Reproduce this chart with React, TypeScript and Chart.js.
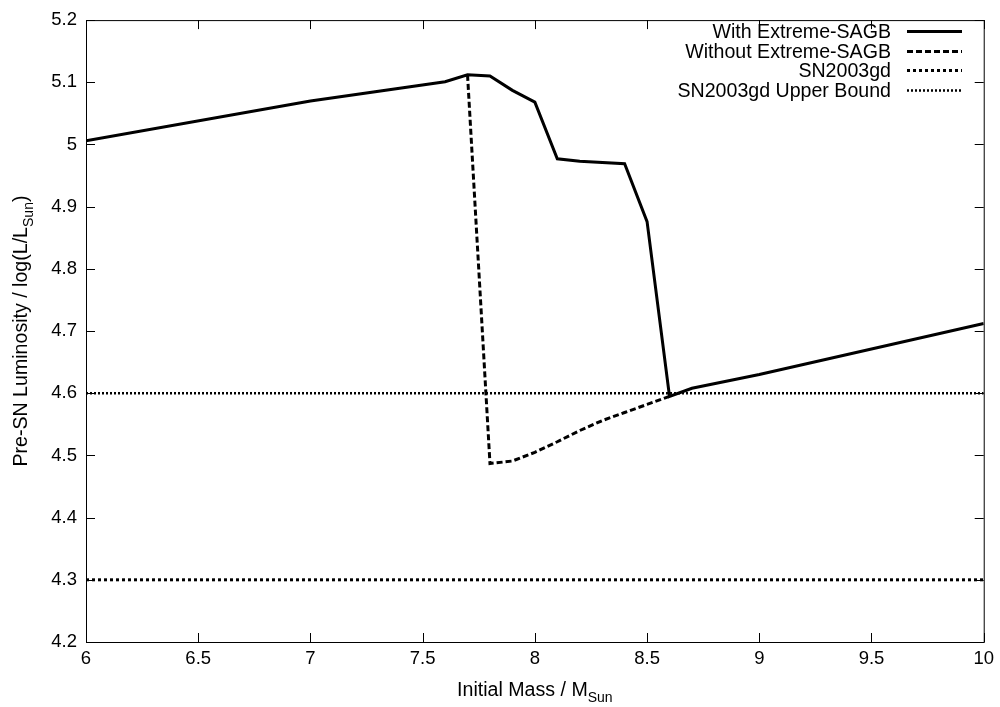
import React, { useEffect, useRef } from "react";
import { Chart, registerables } from "chart.js";

Chart.register(...registerables);

const massWith = [6, 7, 7.6, 7.7, 7.8, 7.9, 8.0, 8.1, 8.2, 8.4, 8.5, 8.6, 8.7, 9, 10];
const lumWith = [5.006, 5.07, 5.101, 5.112, 5.11, 5.087, 5.068, 4.977, 4.973, 4.969, 4.876, 4.595, 4.608, 4.63, 4.712];

const massWithout = [7.7, 7.8, 7.9, 8.0, 8.1, 8.2, 8.3, 8.4, 8.5, 8.6];
const lumWithout = [5.112, 4.487, 4.491, 4.505, 4.522, 4.54, 4.556, 4.569, 4.582, 4.595];

const massRange = [6, 10];
const sn2003gd = [4.3, 4.3];
const sn2003gdUpper = [4.6, 4.6];

const seriesLabels = ["With Extreme-SAGB", "Without Extreme-SAGB", "SN2003gd", "SN2003gd Upper Bound"];

const xTitle = ["Initial Mass / M", "Sun"];
const yTitle = ["Pre-SN Luminosity / log(L/L", "Sun", ")"];

const FONT = "'Liberation Sans', Arial, sans-serif";

const toPts = (xs: number[], ys: number[]) => xs.map((x, i) => ({ x, y: ys[i] }));

const framePlugin = {
  id: "gnuframe",
  afterDraw(chart: any) {
    const ctx = chart.ctx as CanvasRenderingContext2D;
    const { left, right, top, bottom } = chart.chartArea;
    const xs = chart.scales.x;
    const ys = chart.scales.y;
    ctx.save();
    ctx.strokeStyle = "#000";
    ctx.lineWidth = 1;
    ctx.setLineDash([]);
    ctx.strokeRect(left + 0.5, top + 0.5, right - left, bottom - top);
    const tl = 9;
    ctx.beginPath();
    xs.ticks.forEach((t: any) => {
      const px = Math.round(xs.getPixelForValue(t.value)) + 0.5;
      ctx.moveTo(px, bottom);
      ctx.lineTo(px, bottom - tl);
      ctx.moveTo(px, top);
      ctx.lineTo(px, top + tl);
    });
    ys.ticks.forEach((t: any) => {
      const py = Math.round(ys.getPixelForValue(t.value)) + 0.5;
      ctx.moveTo(left, py);
      ctx.lineTo(left + tl, py);
      ctx.moveTo(right, py);
      ctx.lineTo(right - tl, py);
    });
    ctx.stroke();

    // axis titles
    ctx.fillStyle = "#000";
    ctx.textBaseline = "alphabetic";
    ctx.textAlign = "left";
    const mainFont = `19.6px ${FONT}`;
    const subFont = `14px ${FONT}`;
    ctx.font = mainFont;
    const wx1 = ctx.measureText(xTitle[0]).width;
    ctx.font = subFont;
    const wx2 = ctx.measureText(xTitle[1]).width;
    const cx = (left + right) / 2;
    const sx = cx - (wx1 + wx2) / 2;
    ctx.font = mainFont;
    ctx.fillText(xTitle[0], sx, 696);
    ctx.font = subFont;
    ctx.fillText(xTitle[1], sx + wx1, 702);

    ctx.save();
    ctx.translate(27, (top + bottom) / 2);
    ctx.rotate(-Math.PI / 2);
    ctx.font = mainFont;
    const wy1 = ctx.measureText(yTitle[0]).width;
    const wy3 = ctx.measureText(yTitle[2]).width;
    ctx.font = subFont;
    const wy2 = ctx.measureText(yTitle[1]).width;
    const sy = -(wy1 + wy2 + wy3) / 2;
    ctx.font = mainFont;
    ctx.fillText(yTitle[0], sy, 0);
    ctx.font = subFont;
    ctx.fillText(yTitle[1], sy + wy1, 6);
    ctx.font = mainFont;
    ctx.fillText(yTitle[2], sy + wy1 + wy2, 0);
    ctx.restore();

    // legend
    ctx.font = mainFont;
    ctx.textAlign = "right";
    chart.data.datasets.forEach((ds: any, i: number) => {
      const cy = 31 + i * 19.7;
      ctx.fillStyle = "#000";
      ctx.fillText(ds.label, 891, cy + 6.8);
      ctx.beginPath();
      ctx.strokeStyle = "#000";
      ctx.lineWidth = ds.borderWidth;
      ctx.setLineDash(ds.borderDash || []);
      ctx.moveTo(907, Math.round(cy) + 0.5);
      ctx.lineTo(962, Math.round(cy) + 0.5);
      ctx.stroke();
    });
    ctx.restore();
  },
};

export default function App() {
  const ref = useRef<HTMLCanvasElement>(null);
  useEffect(() => {
    if (!ref.current) return;
    const tickFont = { family: FONT, size: 18.5 };
    const chart = new Chart(ref.current, {
      type: "line",
      data: {
        datasets: [
          {
            label: seriesLabels[0],
            data: toPts(massWith, lumWith),
            borderColor: "#000",
            borderWidth: 3,
            pointRadius: 0,
            tension: 0,
            order: 0,
          },
          {
            label: seriesLabels[1],
            data: toPts(massWithout, lumWithout),
            borderColor: "#000",
            borderWidth: 3,
            borderDash: [6, 3],
            pointRadius: 0,
            tension: 0,
            order: 1,
          },
          {
            label: seriesLabels[2],
            data: toPts(massRange, sn2003gd),
            borderColor: "#000",
            borderWidth: 3,
            borderDash: [3, 3],
            pointRadius: 0,
            order: 2,
          },
          {
            label: seriesLabels[3],
            data: toPts(massRange, sn2003gdUpper),
            borderColor: "#000",
            borderWidth: 2.5,
            borderDash: [2, 2],
            pointRadius: 0,
            order: 3,
          },
        ],
      },
      options: {
        animation: false,
        responsive: false,
        maintainAspectRatio: false,
        devicePixelRatio: 1,
        layout: { padding: { top: 13, right: 14, left: 0, bottom: 0 } },
        plugins: { legend: { display: false }, tooltip: { enabled: false } },
        scales: {
          x: {
            type: "linear",
            min: 6,
            max: 10,
            ticks: {
              stepSize: 0.5,
              font: tickFont,
              color: "#000",
              padding: 6,
              maxRotation: 0,
              callback: (v: any) => String(Number(Number(v).toFixed(2))),
            },
            grid: { display: false, drawTicks: false },
            border: { display: false },
            afterFit: (s: any) => {
              s.height = 65;
            },
          },
          y: {
            type: "linear",
            min: 4.2,
            max: 5.2,
            ticks: {
              stepSize: 0.1,
              font: tickFont,
              color: "#000",
              padding: 9,
              callback: (v: any) => String(Number(Number(v).toFixed(2))),
            },
            grid: { display: false, drawTicks: false },
            border: { display: false },
            afterFit: (s: any) => {
              s.width = 86;
            },
          },
        },
      },
      plugins: [framePlugin],
    });
    return () => chart.destroy();
  }, []);
  return (
    <div style={{ position: "absolute", left: 0, top: 0, width: 1000, height: 707, background: "#fff" }}>
      <canvas ref={ref} width={1000} height={707} style={{ width: 1000, height: 707, display: "block" }} />
    </div>
  );
}
